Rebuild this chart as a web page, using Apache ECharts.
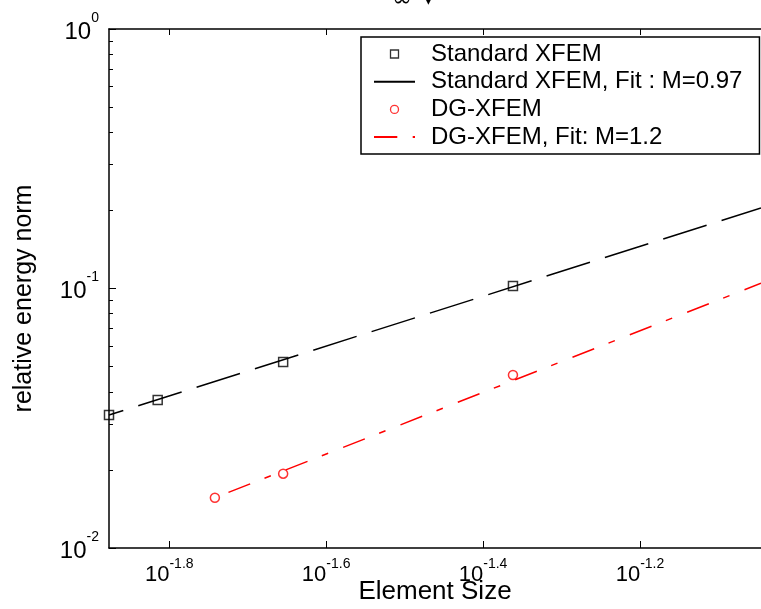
<!DOCTYPE html>
<html><head><meta charset="utf-8">
<script src="https://cdn.jsdelivr.net/npm/echarts@6/dist/echarts.min.js"></script>
<style>html,body{margin:0;padding:0;background:#fff}#c{width:761px;height:609px}</style>
</head><body><div id="c"></div>
<script>
// ---- data ----
const seriesNames = ['Standard XFEM', 'Standard XFEM, Fit : M=0.97', 'DG-XFEM', 'DG-XFEM, Fit: M=1.2'];
const stdSize = [0.01328, 0.01532, 0.02214, 0.04346];
const stdErr  = [0.03254, 0.03718, 0.05208, 0.1022];
const dgSize  = [0.01812, 0.02214, 0.04346];
const dgErr   = [0.01562, 0.01933, 0.04642];
const stdFitSize = [0.01328, 0.09];
const stdFitErr  = [0.03254, 0.2043];
const dgFitSize  = [0.01812, 0.09];
const dgFitErr   = [0.01562, 0.1048];
const xMin = 0.01328, xMax = 0.09;
const yMin = 0.01, yMax = 1;
const xTickExponents = [-1.8, -1.6, -1.4, -1.2];
const yMajorTicks = [0.01, 0.1, 1];
const yMinorTicks = [0.02, 0.03, 0.04, 0.05, 0.06, 0.07, 0.08, 0.09, 0.2, 0.3, 0.4, 0.5, 0.6, 0.7, 0.8, 0.9];

const xTickValues = xTickExponents.map(e => Math.pow(10, e));
const zip = (a, b) => a.map((v, i) => [v, b[i]]);
const FONT = 'Liberation Sans';
const SQUARE_ICON = 'path://M0,0L10,0L10,10L0,10Z';
const HIDDEN_SYMBOL = {color: 'rgba(0,0,0,0)', borderWidth: 0, opacity: 0};

const chart = echarts.init(document.getElementById('c'), null, {renderer: 'canvas'});
chart.setOption({
  animation: false,
  backgroundColor: '#fff',
  grid: {left: 109, right: 0, top: 29, bottom: 61, containLabel: false, outerBoundsMode: 'none'},
  graphic: [
    {type: 'text', left: 392, top: -12, style: {text: '\u221E', font: '24px "DejaVu Sans"', fill: '#000'}},
    {type: 'text', left: 423, top: -8, style: {text: '\u25BC', font: '14px "DejaVu Sans"', fill: '#000'}}
  ],
  xAxis: [{
    type: 'log', min: xMin, max: xMax, position: 'bottom',
    name: 'Element Size', nameLocation: 'middle', nameGap: 31, nameMoveOverlap: false,
    nameTextStyle: {fontSize: 26, fontFamily: FONT, color: '#000'},
    axisLine: {show: true, onZero: false, lineStyle: {color: '#000', width: 1.5}},
    axisTick: {show: true, inside: true, length: 7, customValues: xTickValues, lineStyle: {color: '#000', width: 1}},
    splitLine: {show: false}, minorTick: {show: false},
    axisLabel: {
      show: true, margin: 16, customValues: xTickValues,
      formatter: v => '{b|10}{s|' + (Math.round(Math.log10(v) * 10) / 10).toFixed(1) + '}',
      rich: {
        b: {fontSize: 22, lineHeight: 22, fontFamily: FONT, color: '#000', verticalAlign: 'bottom'},
        s: {fontSize: 14, lineHeight: 14, fontFamily: FONT, color: '#000', verticalAlign: 'bottom', padding: [0, 0, 15, 0]}
      }
    }
  }, {
    type: 'log', min: xMin, max: xMax, position: 'top',
    axisLine: {show: true, onZero: false, lineStyle: {color: '#000', width: 1.5}},
    axisTick: {show: true, inside: true, length: 6, customValues: xTickValues, lineStyle: {color: '#000', width: 1}},
    axisLabel: {show: false}, splitLine: {show: false}
  }],
  yAxis: [{
    type: 'log', min: yMin, max: yMax, position: 'left',
    name: 'relative energy norm', nameLocation: 'middle', nameGap: 72, nameRotate: 90, nameMoveOverlap: false,
    nameTextStyle: {fontSize: 25, fontFamily: FONT, color: '#000', padding: [0, 20, 0, 0]},
    axisLine: {show: true, onZero: false, lineStyle: {color: '#000', width: 1.5}},
    axisTick: {show: true, inside: true, length: 7, customValues: yMajorTicks, lineStyle: {color: '#000', width: 1}},
    splitLine: {show: false},
    axisLabel: {
      show: true, margin: 10, customValues: yMajorTicks, padding: [6, 0, 0, 0],
      formatter: v => '{b|10}{s|' + Math.round(Math.log10(v)) + '}',
      rich: {
        b: {fontSize: 24, lineHeight: 24, fontFamily: FONT, color: '#000', verticalAlign: 'bottom'},
        s: {fontSize: 14, lineHeight: 14, fontFamily: FONT, color: '#000', verticalAlign: 'bottom', padding: [0, 0, 19, 0]}
      }
    }
  }, {
    type: 'log', min: yMin, max: yMax, position: 'left',
    axisLine: {show: false},
    axisTick: {show: true, inside: true, length: 4, customValues: yMinorTicks, lineStyle: {color: '#000', width: 1}},
    axisLabel: {show: false}, splitLine: {show: false}
  }],
  legend: {
    orient: 'vertical', left: 361, top: 37,
    padding: [5, 17, 5, 12], itemGap: 3.7, itemWidth: 41, itemHeight: 8,
    backgroundColor: '#fff', borderColor: '#000', borderWidth: 1.5, borderRadius: 0,
    symbolKeepAspect: true,
    textStyle: {fontSize: 24, fontFamily: FONT, color: '#000', lineHeight: 24, padding: [0, 0, 0, 11]},
    data: [
      {name: seriesNames[0], icon: SQUARE_ICON, itemStyle: {color: 'rgba(0,0,0,0)', borderColor: '#000', borderWidth: 1.3}},
      {name: seriesNames[1], itemStyle: HIDDEN_SYMBOL, lineStyle: {dashOffset: 0}},
      {name: seriesNames[2], icon: 'circle', itemStyle: {color: 'rgba(0,0,0,0)', borderColor: '#f00', borderWidth: 1.3}},
      {name: seriesNames[3], itemStyle: HIDDEN_SYMBOL, lineStyle: {dashOffset: 0}}
    ]
  },
  series: [{
    name: seriesNames[1], type: 'line', xAxisIndex: 0, yAxisIndex: 0,
    data: zip(stdFitSize, stdFitErr), symbol: 'none', clip: true, z: 2,
    itemStyle: {color: '#000'},
    lineStyle: {color: '#000', width: 1.5, type: [45.5, 15.7], dashOffset: 30.5}
  }, {
    name: seriesNames[3], type: 'line', xAxisIndex: 0, yAxisIndex: 0,
    data: zip(dgFitSize, dgFitErr), symbol: 'none', clip: true, z: 2,
    itemStyle: {color: '#f00'},
    lineStyle: {color: '#f00', width: 1.5, type: [23.3, 15.4, 6.8, 16.1], dashOffset: 47}
  }, {
    name: seriesNames[0], type: 'scatter', xAxisIndex: 0, yAxisIndex: 0,
    data: zip(stdSize, stdErr), symbol: 'rect', symbolSize: 9, z: 3,
    itemStyle: {color: 'rgba(0,0,0,0)', borderColor: '#000', borderWidth: 1.5}
  }, {
    name: seriesNames[2], type: 'scatter', xAxisIndex: 0, yAxisIndex: 0,
    data: zip(dgSize, dgErr), symbol: 'circle', symbolSize: 9, z: 3,
    itemStyle: {color: 'rgba(0,0,0,0)', borderColor: '#f00', borderWidth: 1.5}
  }]
});
</script>
</body></html>
